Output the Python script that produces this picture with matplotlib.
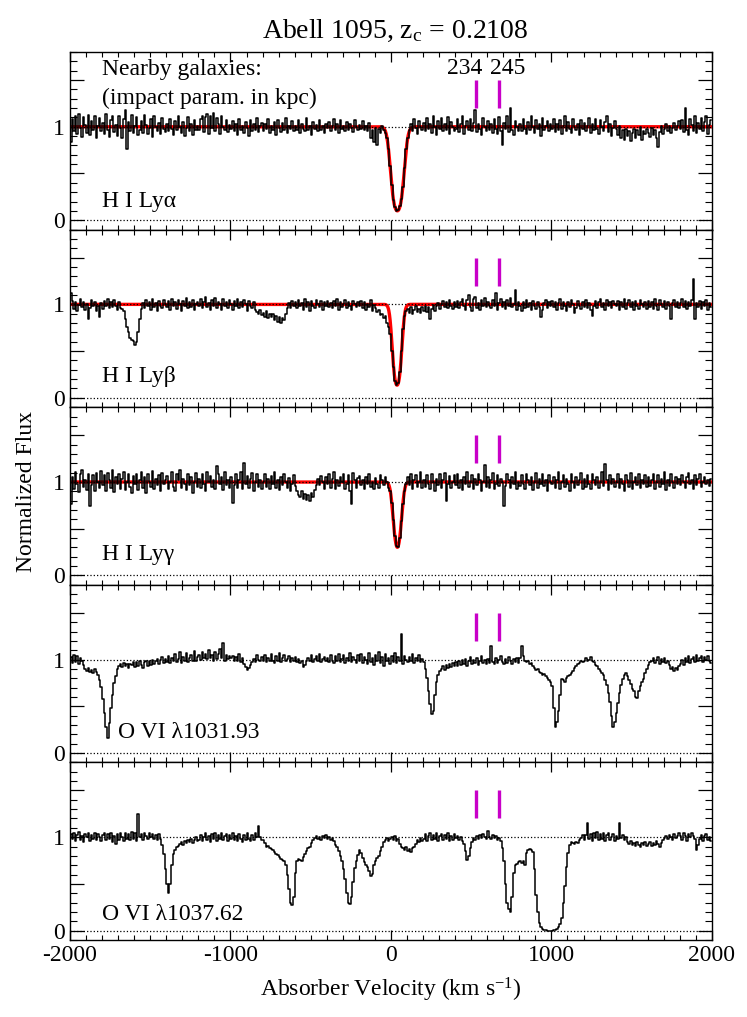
import matplotlib.pyplot as plt
import numpy as np
from matplotlib.ticker import MultipleLocator, FuncFormatter

plt.rcParams['font.family'] = ['Liberation Serif', 'DejaVu Serif']
plt.rcParams['mathtext.fontset'] = 'custom'
plt.rcParams['mathtext.rm'] = 'Liberation Serif'
plt.rcParams['mathtext.it'] = 'Liberation Serif:italic'
plt.rcParams['axes.unicode_minus'] = False

# bin centres, 10 km/s
vel = np.arange(-1995, 2000, 10)

# normalized flux in percent (one line = 200 km/s)
lya = [
    84, 108, 95, 112, 92, 114, 99, 89, 110, 102, 93, 113, 91, 106, 97, 111, 88, 101, 109, 95,
    104, 92, 114, 97, 89, 107, 111, 94, 102, 90, 112, 99, 88, 108, 118, 76, 105, 95, 113, 93,
    101, 110, 91, 97, 106, 93, 113, 102, 92, 99, 108, 89, 111, 100, 95, 104, 92, 109, 98, 94,
    103, 95, 108, 98, 91, 106, 97, 111, 100, 93, 105, 90, 99, 110, 95, 103, 91, 107, 97, 101,
    97, 108, 112, 94, 110, 114, 92, 111, 99, 115, 95, 109, 103, 92, 112, 100, 96, 107, 94, 102,
    98, 106, 95, 103, 91, 108, 97, 101, 93, 105, 99, 90, 107, 95, 103, 97, 109, 94, 101, 104,
    95, 103, 98, 108, 93, 101, 96, 105, 91, 107, 99, 94, 104, 97, 109, 93, 101, 98, 106, 95,
    101, 96, 107, 93, 103, 98, 95, 109, 96, 101, 91, 105, 98, 102, 95, 107, 97, 101, 93, 103,
    99, 105, 95, 101, 108, 97, 103, 93, 107, 98, 101, 95, 105, 97, 103, 99, 94, 107, 100, 96,
    102, 98, 106, 96, 101, 95, 104, 88, 96, 84, 99, 81, 98, 93, 101, 96, 93, 88, 76, 58,
    38, 22, 14, 10, 11, 15, 23, 36, 56, 76, 88, 96, 103, 95, 108, 99, 92, 106, 100, 96,
    104, 95, 109, 98, 103, 93, 112, 100, 91, 106, 98, 109, 95, 103, 97, 110, 92, 105, 100, 95,
    98, 108, 94, 103, 111, 92, 101, 106, 96, 108, 95, 104, 118, 94, 103, 98, 91, 109, 100, 95,
    106, 96, 103, 93, 108, 98, 92, 110, 95, 80, 104, 98, 112, 94, 120, 97, 91, 106, 100, 95,
    103, 95, 108, 98, 92, 105, 97, 111, 100, 93, 107, 98, 103, 90, 109, 96, 101, 106, 95, 103,
    98, 108, 94, 103, 97, 107, 92, 101, 111, 95, 105, 98, 93, 108, 100, 96, 103, 91, 107, 98,
    104, 95, 101, 109, 93, 103, 97, 108, 98, 92, 107, 100, 95, 105, 112, 94, 103, 90, 99, 106,
    98, 91, 101, 88, 96, 86, 98, 90, 95, 85, 93, 98, 88, 97, 91, 100, 86, 95, 92, 98,
    93, 89, 99, 91, 97, 88, 78, 94, 101, 92, 98, 103, 95, 101, 93, 99, 104, 96, 101, 106,
    98, 107, 94, 120, 97, 91, 108, 102, 95, 112, 93, 104, 98, 109, 95, 105, 111, 92, 102, 107,
]

lyb = [
    112, 104, 95, 102, 93, 99, 106, 97, 103, 94, 100, 84, 96, 105, 98, 102, 93, 98, 87, 101,
    95, 104, 98, 106, 96, 102, 97, 105, 98, 94, 102, 96, 95, 93, 84, 76, 70, 64, 62, 61,
    57, 60, 70, 84, 95, 101, 96, 105, 98, 102, 94, 106, 97, 101, 93, 104, 98, 96, 105, 100,
    97, 104, 94, 106, 98, 102, 95, 105, 100, 93, 104, 98, 107, 96, 102, 97, 105, 94, 100, 103,
    98, 106, 96, 102, 108, 97, 101, 94, 105, 98, 107, 96, 103, 100, 94, 106, 98, 102, 96, 105,
    100, 94, 104, 98, 106, 96, 102, 97, 105, 100, 93, 104, 98, 96, 102, 94, 92, 90, 94, 89,
    91, 87, 93, 85, 90, 86, 90, 83, 88, 81, 86, 80, 85, 83, 90, 96, 101, 96, 104, 98,
    102, 96, 105, 98, 101, 94, 106, 97, 102, 93, 104, 98, 96, 105, 100, 97, 104, 94, 102, 98,
    104, 97, 101, 96, 104, 98, 106, 94, 102, 97, 100, 105, 96, 102, 98, 94, 104, 100, 97, 102,
    98, 104, 96, 102, 94, 100, 97, 105, 93, 99, 96, 92, 94, 89, 90, 85, 88, 80, 76, 68,
    50, 33, 18, 14, 16, 28, 50, 74, 88, 93, 95, 91, 97, 90, 94, 98, 92, 95, 91, 97,
    93, 98, 92, 97, 84, 95, 99, 93, 98, 101, 95, 100, 104, 97, 102, 96, 105, 98, 95, 102,
    97, 104, 96, 102, 106, 98, 94, 105, 110, 97, 93, 106, 108, 96, 101, 94, 105, 98, 107, 97,
    102, 98, 96, 105, 98, 112, 94, 101, 106, 97, 102, 95, 105, 98, 107, 97, 100, 115, 94, 103,
    98, 93, 102, 96, 105, 97, 101, 94, 104, 98, 95, 102, 97, 87, 94, 101, 105, 96, 102, 98,
    104, 97, 102, 94, 101, 106, 95, 103, 98, 93, 102, 97, 105, 100, 91, 96, 104, 98, 95, 102,
    97, 105, 96, 101, 94, 88, 98, 104, 96, 102, 106, 97, 101, 94, 105, 98, 102, 96, 104, 100,
    98, 104, 94, 102, 97, 106, 95, 101, 105, 97, 102, 94, 104, 98, 95, 105, 100, 97, 102, 95,
    104, 97, 102, 95, 106, 98, 94, 105, 100, 97, 104, 95, 102, 98, 84, 101, 105, 97, 102, 96,
    101, 106, 97, 104, 95, 102, 98, 105, 127, 84, 101, 97, 104, 95, 102, 98, 105, 94, 101, 97,
]

lyg = [
    76, 105, 93, 111, 98, 89, 108, 113, 95, 102, 91, 109, 74, 97, 107, 90, 110, 100, 94, 112,
    97, 107, 90, 110, 102, 94, 113, 89, 105, 98, 109, 92, 103, 111, 91, 100, 108, 95, 88, 106,
    98, 109, 91, 102, 111, 94, 105, 88, 108, 100, 95, 112, 92, 103, 97, 107, 90, 110, 98, 102,
    106, 92, 100, 111, 95, 90, 108, 102, 113, 94, 103, 98, 91, 109, 97, 105, 88, 100, 110, 95,
    103, 94, 108, 98, 90, 111, 100, 106, 95, 102, 93, 117, 109, 98, 105, 91, 111, 97, 102, 94,
    105, 77, 97, 108, 94, 102, 111, 92, 120, 98, 106, 94, 103, 110, 90, 100, 108, 95, 102, 93,
    100, 109, 95, 103, 92, 106, 98, 111, 94, 102, 91, 105, 97, 108, 100, 94, 104, 90, 98, 107,
    96, 90, 86, 84, 90, 82, 87, 81, 86, 80, 88, 84, 91, 97, 103, 97, 106, 100, 93, 105,
    98, 108, 94, 103, 111, 92, 102, 96, 105, 100, 109, 93, 98, 107, 90, 76, 110, 102, 94, 104,
    106, 97, 102, 93, 105, 98, 109, 95, 100, 92, 104, 98, 94, 107, 102, 97, 105, 100, 94, 90,
    78, 59, 42, 32, 30, 40, 58, 76, 90, 98, 105, 97, 109, 93, 102, 107, 95, 100, 111, 94,
    102, 95, 107, 98, 92, 109, 100, 90, 103, 97, 108, 94, 102, 110, 80, 98, 106, 94, 100, 107,
    97, 108, 94, 102, 91, 105, 98, 111, 95, 100, 107, 93, 103, 97, 109, 102, 90, 100, 118, 95,
    105, 94, 102, 110, 92, 98, 107, 96, 103, 100, 74, 96, 108, 102, 94, 105, 98, 111, 92, 100,
    96, 107, 98, 92, 109, 102, 97, 105, 91, 100, 110, 94, 103, 98, 108, 96, 102, 90, 107, 100,
    98, 105, 94, 102, 111, 92, 100, 107, 95, 103, 98, 90, 109, 100, 94, 105, 97, 102, 110, 93,
    103, 95, 107, 98, 92, 109, 102, 97, 105, 94, 100, 111, 96, 119, 102, 91, 107, 98, 103, 95,
    100, 108, 94, 103, 98, 90, 107, 102, 95, 110, 93, 100, 105, 97, 109, 94, 102, 98, 107, 95,
    105, 96, 102, 109, 92, 100, 107, 95, 103, 98, 111, 91, 102, 96, 108, 100, 94, 105, 98, 103,
    97, 107, 100, 94, 105, 110, 98, 102, 92, 107, 97, 103, 109, 95, 100, 105, 98, 102, 96, 103,
]

o6_1032 = [
    103, 96, 105, 97, 104, 95, 102, 99, 94, 90, 88, 91, 87, 89, 86, 90, 87, 83, 78, 71,
    58, 43, 28, 16, 32, 48, 62, 75, 82, 90, 93, 95, 92, 96, 93, 95, 91, 95, 94, 97,
    92, 97, 93, 98, 94, 91, 97, 99, 93, 98, 94, 100, 95, 99, 101, 95, 100, 103, 96, 101,
    97, 104, 96, 102, 98, 106, 97, 101, 108, 96, 103, 98, 107, 97, 102, 105, 98, 109, 99, 103,
    105, 100, 108, 102, 106, 101, 110, 102, 105, 99, 108, 101, 106, 111, 102, 118, 99, 105, 101, 104,
    102, 104, 98, 103, 99, 106, 97, 102, 95, 92, 89, 91, 94, 97, 101, 97, 105, 100, 98, 103,
    99, 105, 97, 102, 98, 106, 99, 96, 104, 98, 107, 97, 102, 105, 98, 101, 104, 97, 102, 98,
    103, 97, 101, 96, 99, 92, 94, 98, 102, 98, 105, 97, 101, 104, 98, 106, 97, 101, 103, 98,
    102, 97, 105, 99, 96, 104, 98, 106, 97, 101, 105, 96, 102, 98, 107, 97, 103, 100, 96, 105,
    98, 106, 96, 103, 100, 95, 107, 97, 102, 94, 105, 98, 108, 96, 103, 93, 106, 98, 102, 95,
    104, 97, 107, 96, 103, 99, 127, 95, 104, 100, 97, 103, 98, 106, 96, 102, 98, 105, 97, 101,
    97, 90, 80, 66, 52, 42, 45, 62, 76, 83, 88, 90, 93, 89, 94, 91, 95, 92, 96, 93,
    97, 93, 99, 94, 100, 95, 101, 93, 99, 103, 95, 100, 96, 102, 94, 99, 104, 96, 100, 95,
    101, 96, 114, 97, 95, 102, 96, 100, 104, 97, 95, 101, 96, 103, 98, 95, 101, 97, 102, 96,
    102, 115, 104, 99, 97, 98, 95, 96, 93, 91, 89, 90, 87, 86, 84, 85, 82, 80, 78, 76,
    72, 48, 28, 33, 45, 62, 79, 78, 76, 80, 82, 84, 86, 88, 91, 93, 95, 96, 98, 97,
    99, 102, 98, 100, 103, 99, 97, 94, 93, 90, 88, 86, 83, 78, 73, 64, 55, 40, 28, 33,
    43, 54, 64, 73, 79, 84, 86, 82, 78, 74, 69, 66, 60, 59, 66, 72, 76, 79, 86, 90,
    94, 97, 99, 102, 96, 100, 103, 95, 101, 97, 102, 96, 99, 94, 90, 92, 88, 91, 89, 93,
    95, 100, 94, 102, 97, 104, 96, 101, 103, 97, 105, 98, 102, 104, 97, 103, 100, 104, 98, 96,
]

o6_1038 = [
    103, 98, 105, 96, 102, 106, 97, 101, 95, 103, 100, 105, 96, 102, 98, 104, 97, 103, 100, 96,
    102, 105, 97, 103, 98, 104, 95, 101, 93, 103, 97, 105, 100, 96, 104, 98, 103, 97, 106, 98,
    104, 96, 125, 100, 103, 97, 105, 101, 98, 104, 100, 103, 98, 102, 97, 103, 98, 92, 82, 66,
    50, 40, 50, 70, 82, 86, 89, 91, 93, 95, 92, 96, 94, 97, 95, 98, 94, 97, 100, 96,
    97, 102, 96, 100, 104, 97, 101, 95, 103, 98, 105, 96, 102, 98, 104, 97, 101, 103, 96, 102,
    98, 104, 97, 101, 96, 103, 98, 95, 102, 97, 104, 98, 96, 102, 97, 105, 100, 112, 100, 97,
    97, 94, 90, 91, 88, 87, 86, 84, 82, 81, 79, 77, 76, 74, 70, 60, 45, 30, 27, 36,
    62, 74, 77, 76, 75, 79, 82, 85, 88, 90, 94, 97, 99, 101, 98, 100, 97, 101, 99, 102,
    98, 100, 97, 99, 96, 92, 89, 85, 80, 74, 66, 55, 40, 30, 29, 36, 52, 67, 75, 81,
    86, 83, 78, 73, 70, 68, 64, 59, 61, 70, 74, 78, 80, 85, 90, 95, 97, 99, 96, 98,
    100, 97, 101, 96, 98, 93, 90, 88, 86, 89, 85, 87, 84, 88, 90, 93, 97, 95, 99, 96,
    98, 103, 96, 101, 104, 97, 102, 98, 105, 96, 101, 103, 97, 102, 98, 104, 96, 101, 97, 103,
    99, 101, 97, 100, 96, 93, 85, 76, 80, 88, 95, 99, 97, 101, 98, 102, 99, 103, 100, 98,
    107, 100, 98, 102, 99, 101, 97, 99, 96, 88, 74, 50, 30, 23, 20, 36, 62, 70, 71, 73,
    75, 72, 74, 70, 83, 86, 87, 86, 84, 66, 38, 20, 8, 4, 2, 1, 1, 0, 0, 0,
    0, 1, 1, 2, 4, 7, 14, 30, 48, 68, 83, 92, 95, 94, 93, 95, 94, 97, 99, 102,
    97, 102, 115, 98, 103, 96, 104, 99, 106, 97, 103, 98, 105, 96, 102, 104, 97, 100, 103, 96,
    101, 98, 115, 99, 102, 97, 100, 95, 93, 96, 92, 94, 91, 95, 92, 90, 94, 92, 95, 91,
    93, 95, 91, 94, 92, 96, 93, 90, 94, 97, 99, 101, 98, 102, 100, 97, 103, 99, 101, 104,
    101, 97, 104, 101, 96, 103, 100, 105, 101, 98, 86, 92, 98, 102, 96, 101, 103, 97, 100, 96,
]

spectra = [lya, lyb, lyg, o6_1032, o6_1038]
names = ['H I Ly\u03b1', 'H I Ly\u03b2', 'H I Ly\u03b3', 'O VI \u03bb1031.93', 'O VI \u03bb1037.62']
name_pos = [(-1800, 0.20), (-1800, 0.23), (-1800, 0.22), (-1700, 0.22), (-1800, 0.17)]

# HI fit components (centre, b, central optical depth)
fit_v0 = [40, 38, 40]
fit_b = [38, 28, 28]
fit_tau = [2.3, 2.0, 1.2]

gal_v = [533, 671]
gal_rho = ['234', '245']
gal_text_v = [458, 725]

fig, axes = plt.subplots(5, 1, figsize=(7.47, 10.17), dpi=100, sharex=True)
fig.subplots_adjust(left=0.0937, right=0.953, bottom=0.0757, top=0.9489, hspace=0)

vfine = np.linspace(-2000, 2000, 4001)

for i, ax in enumerate(axes):
    flux = np.array(spectra[i]) / 100.0
    if i < 3:
        model = np.exp(-fit_tau[i] * np.exp(-((vfine - fit_v0[i]) / fit_b[i]) ** 2))
        ax.plot(vfine, model, color='red', lw=2.4, zorder=2)
    ax.step(vel, flux, where='mid', color='k', lw=1.1, zorder=3)
    ax.axhline(1, ls=':', color='k', lw=0.9, zorder=4)
    ax.axhline(0, ls=':', color='k', lw=0.9, zorder=4)
    ax.vlines(gal_v, 1.2, 1.5, color='#c800c8', lw=2.4, zorder=5)

    ax.set_xlim(-2000, 2000)
    ax.set_ylim(-0.1, 1.8)
    ax.xaxis.set_major_locator(MultipleLocator(1000))
    ax.xaxis.set_minor_locator(MultipleLocator(100))
    ax.yaxis.set_major_locator(MultipleLocator(0.5))
    ax.yaxis.set_minor_locator(MultipleLocator(0.1))
    ax.yaxis.set_major_formatter(FuncFormatter(
        lambda y, p: '%d' % round(y) if abs(y - round(y)) < 1e-6 and round(y) in (0, 1) else ''))
    ax.tick_params(which='both', direction='in', top=True, right=True, labelsize=17)
    ax.tick_params(axis='x', which='major', length=7.5, width=0.9)
    ax.tick_params(axis='x', which='minor', length=3.3, width=0.8)
    ax.tick_params(axis='y', which='major', length=10, width=0.9)
    ax.tick_params(axis='y', which='minor', length=4.7, width=0.8)
    for s in ax.spines.values():
        s.set_linewidth(1.0)

    ax.text(name_pos[i][0], name_pos[i][1], names[i], fontsize=17, va='center', ha='left')

axes[0].text(-1800, 1.61, 'Nearby galaxies:', fontsize=17, va='center', ha='left')
axes[0].text(-1800, 1.30, '(impact param. in kpc)', fontsize=17, va='center', ha='left')
for tv, t in zip(gal_text_v, gal_rho):
    axes[0].text(tv, 1.62, t, fontsize=17, va='center', ha='center')

fig.text(0.529, 0.970, 'Abell 1095, z$_{\\mathrm{c}}$ = 0.2108', fontsize=20, ha='center', va='center')
fig.text(0.036, 0.517, 'Normalized Flux', fontsize=17, rotation=90, ha='center', va='center')
fig.text(0.523, 0.0265, 'Absorber Velocity (km s$^{\\mathrm{-1}}$)', fontsize=17, ha='center', va='center')

fig.savefig('out.png', dpi=100)
